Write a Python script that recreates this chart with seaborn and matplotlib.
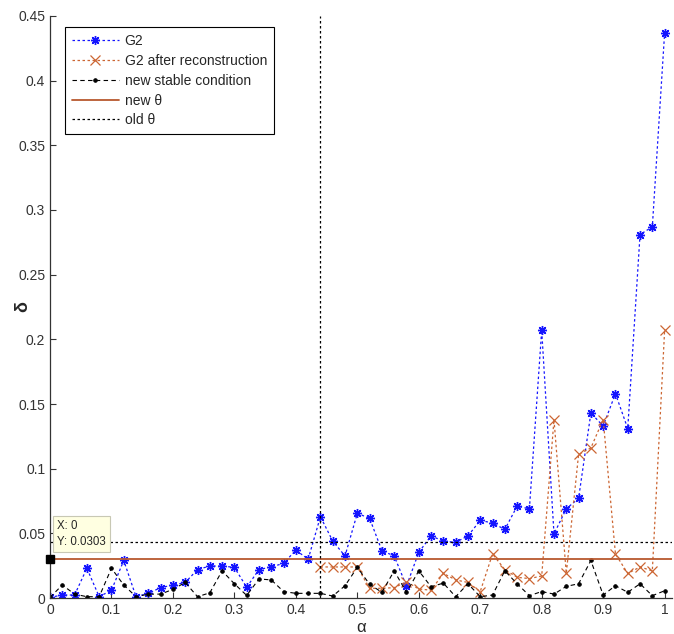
import numpy as np
import pandas as pd
import matplotlib
matplotlib.use("Agg")
import matplotlib.pyplot as plt
import seaborn as sns

# ---- data ----
alpha = [round(0.02 * i, 2) for i in range(51)]
g2 = [0.0005, 0.0023, 0.0023, 0.023, 0.001, 0.006, 0.029, 0.001, 0.0036, 0.008,
      0.010, 0.012, 0.022, 0.0247, 0.0247, 0.0237, 0.0083, 0.022, 0.024, 0.0268,
      0.037, 0.030, 0.0629, 0.044, 0.0325, 0.0655, 0.0616, 0.0366, 0.0325, 0.0093,
      0.0353, 0.048, 0.044, 0.043, 0.048, 0.060, 0.058, 0.053, 0.071, 0.069,
      0.207, 0.0495, 0.069, 0.077, 0.143, 0.133, 0.158, 0.131, 0.281, 0.287,
      0.437]
alpha_rec = alpha[22:]
g2_rec = [0.024, 0.024, 0.024, 0.024, 0.0075, 0.0075, 0.008, 0.0126, 0.007, 0.006,
          0.019, 0.014, 0.012, 0.005, 0.034, 0.022, 0.016, 0.015, 0.017, 0.138,
          0.019, 0.111, 0.116, 0.138, 0.034, 0.019, 0.024, 0.021, 0.207]
stable = [0.0005, 0.010, 0.003, 0.001, 0.001, 0.023, 0.010, 0.001, 0.003, 0.003,
          0.0067, 0.012, 0.001, 0.004, 0.021, 0.011, 0.002, 0.0147, 0.014, 0.005,
          0.0036, 0.0036, 0.0036, 0.0015, 0.0095, 0.0237, 0.0106, 0.0044, 0.021, 0.0044,
          0.021, 0.0087, 0.0115, 0.001, 0.011, 0.001, 0.0023, 0.021, 0.011, 0.0018,
          0.005, 0.003, 0.009, 0.011, 0.029, 0.0023, 0.0095, 0.0044, 0.011, 0.0018,
          0.0056]
new_theta = 0.0303
old_theta = 0.0433
old_alpha = 0.44
xticks = [0, 0.1, 0.2, 0.3, 0.4, 0.5, 0.6, 0.7, 0.8, 0.9, 1]
xticklabels = ["0", "0.1", "0.2", "0.3", "0.4", "0.5", "0.6", "0.7", "0.8", "0.9", "1"]
yticks = [0, 0.05, 0.1, 0.15, 0.2, 0.25, 0.3, 0.35, 0.4, 0.45]
yticklabels = ["0", "0.05", "0.1", "0.15", "0.2", "0.25", "0.3", "0.35", "0.4", "0.45"]

sns.set_style("white")
plt.rcParams['font.family'] = ['Liberation Sans', 'DejaVu Sans']

fig = plt.figure(figsize=(6.74, 6.34), dpi=100)
ax = fig.add_axes([50 / 674, 1 - 598 / 634, 622 / 674, 582 / 634])

blue = '#1414FF'
orange = '#CC6633'
brown = '#B8582E'

sns.lineplot(x=alpha, y=g2, ax=ax, color=blue, linestyle=(0, (2, 2)), linewidth=0.9,
             marker=(8, 2, 0), markersize=6.5, markeredgewidth=1.0,
             markeredgecolor=blue, label='G2')
sns.lineplot(x=alpha_rec, y=g2_rec, ax=ax, color=orange, linestyle=(0, (2, 2)), linewidth=0.9,
             marker='x', markersize=7, markeredgewidth=0.9,
             markeredgecolor=orange, label='G2 after reconstruction')
sns.lineplot(x=alpha, y=stable, ax=ax, color='black', linestyle=(0, (4, 3)), linewidth=0.8,
             marker='.', markersize=5, markeredgecolor='black',
             label='new stable condition')
ax.axhline(new_theta, color=brown, linewidth=1.3, label='new \u03b8')
ax.axhline(old_theta, color='black', linestyle=(0, (2, 2)), linewidth=0.9, label='old \u03b8')
ax.axvline(old_alpha, color='black', linestyle=(0, (2, 2)), linewidth=0.9)

# data tip
ax.plot([0], [new_theta], marker='s', color='black', markersize=6, clip_on=False, zorder=10)
ax.text(0.012, 0.0495, "X: 0\nY: 0.0303", fontsize=8.3, va='center', ha='left',
        zorder=11, linespacing=1.45,
        bbox=dict(boxstyle='square,pad=0.35', facecolor='#FFFFE1', edgecolor='#C8C8B4', linewidth=0.8))

ax.set_xlim(0, 1.012)
ax.set_ylim(0, 0.45)
ax.set_xticks(xticks)
ax.set_xticklabels(xticklabels)
ax.set_yticks(yticks)
ax.set_yticklabels(yticklabels)
ax.tick_params(direction='in', length=4, width=0.8, labelsize=10, colors='#333333',
               bottom=True, left=True)
for s in ['top', 'right']:
    ax.spines[s].set_visible(False)
for s in ['left', 'bottom']:
    ax.spines[s].set_color('#333333')
    ax.spines[s].set_linewidth(0.9)

ax.set_xlabel('\u03b1', fontsize=12)
ax.xaxis.set_label_coords(0.5, -0.038)
ax.set_ylabel('\u03b4', fontsize=13, fontweight='bold', rotation=90)
ax.yaxis.set_label_coords(-0.03, 0.5)

leg = ax.legend(loc='upper left', bbox_to_anchor=(0.024, 0.981), fontsize=10,
                frameon=True, fancybox=False, framealpha=1, edgecolor='black',
                handlelength=3.4, borderpad=0.5, labelspacing=0.42, handletextpad=0.4,
                borderaxespad=0)
leg.get_frame().set_linewidth(0.8)

fig.savefig('out.png', dpi=100)
